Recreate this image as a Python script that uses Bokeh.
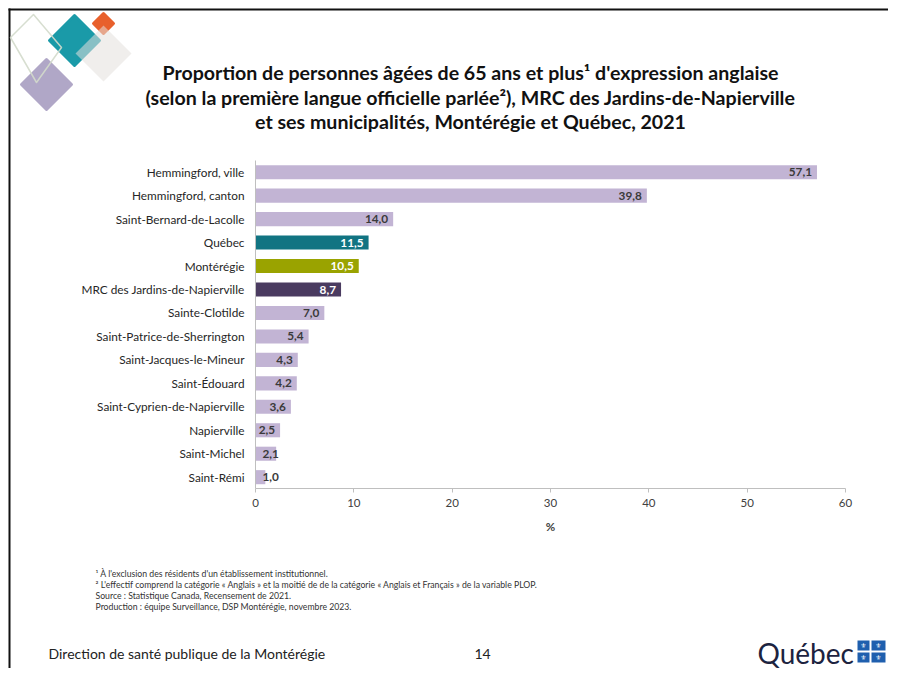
from bokeh.plotting import figure
from bokeh.models import (ColumnDataSource, Range1d, FixedTicker, LinearAxis)
from bokeh.core.properties import value
from bokeh.embed import file_html
from bokeh.resources import INLINE

# ---------------- data ----------------
categories = ["Hemmingford, ville", "Hemmingford, canton", "Saint-Bernard-de-Lacolle",
              "Québec", "Montérégie", "MRC des Jardins-de-Napierville", "Sainte-Clotilde",
              "Saint-Patrice-de-Sherrington", "Saint-Jacques-le-Mineur", "Saint-Édouard",
              "Saint-Cyprien-de-Napierville", "Napierville", "Saint-Michel", "Saint-Rémi"]
values = [57.1, 39.8, 14.0, 11.5, 10.5, 8.7, 7.0, 5.4, 4.3, 4.2, 3.6, 2.5, 2.1, 1.0]
highlight = {"Québec": "#117482", "Montérégie": "#9aa300",
             "MRC des Jardins-de-Napierville": "#4a3b60"}
x_ticks = [0, 10, 20, 30, 40, 50, 60]

title_lines = ["Proportion de personnes âgées de 65 ans et plus¹ d'expression anglaise",
               "(selon la première langue officielle parlée²), MRC des Jardins-de-Napierville",
               "et ses municipalités, Montérégie et Québec, 2021"]
notes = ["¹ À l'exclusion des résidents d'un établissement institutionnel.",
         "² L'effectif comprend la catégorie « Anglais » et la moitié de de la catégorie « Anglais et Français » de la variable PLOP.",
         "Source : Statistique Canada, Recensement de 2021.",
         "Production : équipe Surveillance, DSP Montérégie, novembre 2023."]
footer_left = "Direction de santé publique de la Montérégie"
page_no = "14"

LIGHT = "#c2b4d4"
FONT = "Lato"

# ---------------- layout (pixels) ----------------
W, H = 888, 668
X0_PX, X60_PX = 255.0, 845.0          # where 0 % and 60 % sit
ROW0_PX, ROW_STEP = 171.7, 23.46      # centre of first row, row pitch

k = (X60_PX - X0_PX) / 60.0
pct_range = Range1d(start=-X0_PX / k, end=(W - X0_PX) / k)
row_range = Range1d(start=(H - ROW0_PX) / ROW_STEP, end=-ROW0_PX / ROW_STEP)

rows = list(range(len(categories)))
colors = [highlight.get(c, LIGHT) for c in categories]
tcolors = ["white" if c in highlight else "#3a3a3a" for c in categories]
labels = [f"{v:.1f}".replace(".", ",") for v in values]

src = ColumnDataSource(dict(row=rows, val=values, col=colors))
big = [i for i, v in enumerate(values) if v >= 2.5]
small = [i for i, v in enumerate(values) if v < 2.5]
src_big = ColumnDataSource(dict(row=[rows[i] for i in big], x=[values[i] for i in big],
                                lbl=[labels[i] for i in big], tc=[tcolors[i] for i in big]))
src_small = ColumnDataSource(dict(row=[rows[i] for i in small], x=[0 for i in small],
                                  lbl=[labels[i] for i in small], tc=[tcolors[i] for i in small]))

p = figure(width=W, height=H, output_backend="svg", toolbar_location=None,
           x_range=Range1d(0, W), y_range=Range1d(H, 0),
           x_axis_type=None, y_axis_type=None, min_border=0)
p.extra_x_ranges = {"pct": pct_range}
p.extra_y_ranges = {"row": row_range}
p.outline_line_color = None
p.background_fill_color = "white"
p.border_fill_color = "white"

# ---- slide decorations (pixel space) ----
# black frame of the slide
p.quad(left=[8, 8], right=[10, W], top=[8, 8], bottom=[H, 10], fill_color="#111111", line_color=None)


def diamond(cx, cy, r):
    return [cx, cx + r, cx, cx - r], [cy - r, cy, cy + r, cy]


dx, dy = diamond(46, 84, 25)
p.patch(dx, dy, fill_color="#b0a7c7", line_color="#b0a7c7", line_width=3, line_join="round")
dx, dy = diamond(74, 40, 25)
p.patch(dx, dy, fill_color="#1a9aa8", line_color="#1a9aa8", line_width=3, line_join="round")
dx, dy = diamond(103, 23, 10)
p.patch(dx, dy, fill_color="#e8602c", line_color="#e8602c", line_width=3, line_join="round")
dx, dy = diamond(103, 53, 28)
p.patch(dx, dy, fill_color="#e4e0dc", fill_alpha=0.55, line_color=None)
p.patch([33, 61, 36, 10], [14, 47, 82, 37], fill_color=None, line_color="#d3dacb",
        line_width=1.5, line_alpha=0.9, line_join="round")

# title
p.text(x=[470] * 3, y=[72, 97, 121], text=title_lines, text_align="center", text_baseline="middle",
       text_font=value(FONT), text_font_style="bold", text_font_size="19.6px", text_color="#111111")

# footnotes
p.text(x=[95] * 4, y=[573, 584, 595, 606], text=notes, text_align="left", text_baseline="middle",
       text_font=value(FONT), text_font_size="8.7px", text_color="#333333")

# footer
p.text(x=[48, 474], y=[653, 653], text=[footer_left, page_no], text_align="left",
       text_baseline="middle", text_font=value(FONT), text_font_size="14px", text_color="#222222")
p.text(x=[757], y=[652], text=["Québec"], text_align="left", text_baseline="middle",
       text_font=value(FONT), text_font_size="28px", text_color="#1c2340")
p.quad(left=[857, 871, 857, 871], right=[869, 885, 869, 885],
       top=[640, 640, 652, 652], bottom=[650, 650, 662, 662], fill_color="#1f5fae", line_color=None)
p.text(x=[863, 878, 863, 878], y=[645, 645, 657, 657], text=["⚜"] * 4, text_align="center",
       text_baseline="middle", text_font=value("DejaVu Sans"), text_font_size="7px", text_color="white")

# ---- bar chart (data space) ----
p.hbar(y="row", right="val", left=0, height=0.6, fill_color="col", line_color=None, source=src,
       x_range_name="pct", y_range_name="row")
p.text(x="x", y="row", text="lbl", source=src_big, text_align="right", text_baseline="middle",
       x_offset=-5, text_font=value(FONT), text_font_style="bold", text_font_size="11.8px",
       text_color="tc", x_range_name="pct", y_range_name="row")
p.text(x="x", y="row", text="lbl", source=src_small, text_align="left", text_baseline="middle",
       x_offset=7, text_font=value(FONT), text_font_style="bold", text_font_size="11.8px",
       text_color="tc", x_range_name="pct", y_range_name="row")

xa = LinearAxis(x_range_name="pct", y_range_name="row", fixed_location=len(categories) - 0.5,
                bounds=(0, 60), ticker=FixedTicker(ticks=x_ticks))
xa.axis_line_color = "#bfbfbf"
xa.major_tick_line_color = "#bfbfbf"
xa.major_tick_out = 4
xa.major_tick_in = 0
xa.minor_tick_line_color = None
xa.major_label_text_font = FONT
xa.major_label_text_font_size = "11.5px"
xa.major_label_text_color = "#404040"
xa.major_label_standoff = 6
xa.axis_label = "%"
xa.axis_label_text_font = FONT
xa.axis_label_text_font_style = "bold"
xa.axis_label_text_font_size = "11.5px"
xa.axis_label_text_color = "#404040"
xa.axis_label_standoff = 10
p.add_layout(xa, "below")

ya = LinearAxis(x_range_name="pct", y_range_name="row", fixed_location=0,
                bounds=(-0.5, len(categories) - 0.5), ticker=FixedTicker(ticks=rows),
                major_label_overrides={i: c for i, c in zip(rows, categories)})
ya.axis_line_color = "#bfbfbf"
ya.major_tick_line_color = None
ya.major_tick_out = 0
ya.major_tick_in = 0
ya.minor_tick_line_color = None
ya.major_label_text_font = FONT
ya.major_label_text_font_size = "11.8px"
ya.major_label_text_color = "#262626"
ya.major_label_standoff = 11
p.add_layout(ya, "left")

open("out.html", "w").write(file_html(p, INLINE))
